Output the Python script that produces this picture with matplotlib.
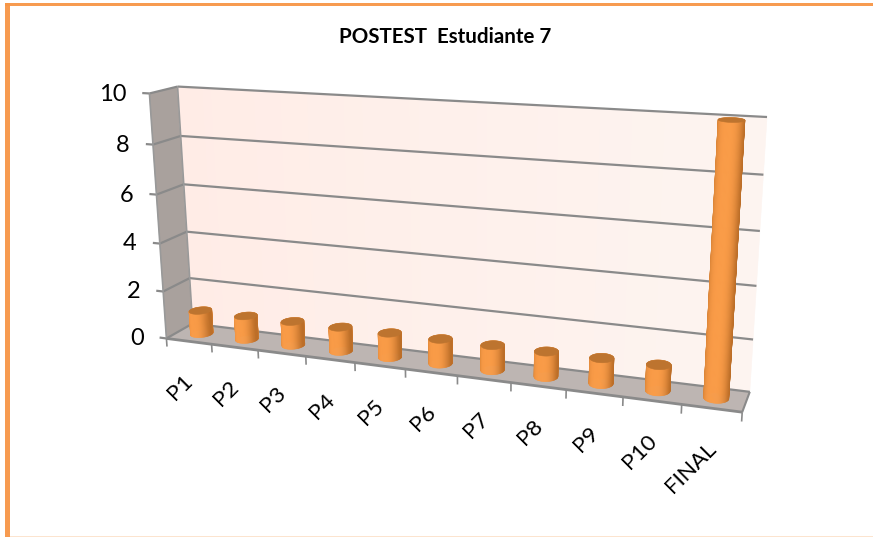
import numpy as np
import matplotlib
matplotlib.use('Agg')
from matplotlib import pyplot as plt
from matplotlib.colors import to_rgb
from matplotlib.patches import Polygon, Rectangle

categories = ['P1', 'P2', 'P3', 'P4', 'P5', 'P6', 'P7', 'P8', 'P9', 'P10', 'FINAL']
scores = [1, 1, 1, 1, 1, 1, 1, 1, 1, 1, 10]
value_ticks = [0, 2, 4, 6, 8, 10]
title = 'POSTEST  Estudiante 7'

# box corners (category pos, value, depth) and where they land on the canvas
BOX_POINTS = [
    ((0, 0, 0), (167, 339)),
    ((1, 0, 0), (742, 412)),
    ((0, 0, 1), (192, 323)),
    ((1, 0, 1), (750, 392)),
    ((0, 10, 1), (178, 87)),
    ((1, 10, 1), (767, 117)),
    ((0, 10, 0), (149, 93)),
]
BAR_RX = 0.0190
BAR_RZ = 0.25

ORANGE = '#F79646'
FONT = ['Lato', 'DejaVu Sans']


def fit_camera(points):
    # plain DLT, least squares over the box corners
    rows = []
    for (X, Y, Z), (x, y) in points:
        x, y = x / 1000, y / 1000
        rows.append([X, Y, Z, 1, 0, 0, 0, 0, -x * X, -x * Y, -x * Z, -x])
        rows.append([0, 0, 0, 0, X, Y, Z, 1, -y * X, -y * Y, -y * Z, -y])
    _, _, vt = np.linalg.svd(np.array(rows, dtype=float))
    return vt[-1].reshape(3, 4)


CAMERA = fit_camera(BOX_POINTS)


def project(u, v, d):
    u, v, d = np.broadcast_arrays(u, v, d)
    p = CAMERA @ np.vstack([u.ravel(), v.ravel(), d.ravel(), np.ones(u.size)])
    return np.column_stack([p[0] / p[2], p[1] / p[2]]) * 1000


def mix(c1, c2, t):
    c1, c2 = np.array(to_rgb(c1)), np.array(to_rgb(c2))
    return tuple(c1 + (c2 - c1) * t)


def poly(ax, pts, color, z, lw=0.4):
    ax.add_patch(Polygon(pts, closed=True, facecolor=color, edgecolor=color, lw=lw, zorder=z))


def draw_line(ax, a, b, color='#8A8A8A', lw=1.6, z=3):
    pts = project(*zip(a, b))
    ax.plot(pts[:, 0], pts[:, 1], color=color, lw=lw, zorder=z, solid_capstyle='butt')


def draw_box(ax):
    # left wall
    poly(ax, project([0, 0, 0, 0], [0, 10, 10, 0], [0, 0, 1, 1]), '#A9A19D', 1)
    # back wall, slight gradient left to right
    edges = np.linspace(0, 1, 61)
    for i in range(60):
        col = mix('#FFECE6', '#FDF4F0', i / 59)
        poly(ax, project([edges[i], edges[i + 1], edges[i + 1], edges[i]], [0, 0, 10, 10], 1), col, 1)
    # floor
    poly(ax, project([0, 1, 1, 0], 0, [0, 0, 1, 1]), '#BDB5B2', 2)

    for v in value_ticks:
        draw_line(ax, (0, v, 1), (1, v, 1))
        draw_line(ax, (0, v, 0), (0, v, 1))
        draw_line(ax, (-0.014, v, 0), (0, v, 0))
        x, y = project(-0.014, v, 0)[0]
        ax.text(x - 16, y + 1, str(v), ha='right', va='center', fontsize=17, color='black', family=FONT)
    draw_line(ax, (0, 0, 0), (0, 10, 0), color='#999999', lw=1.2)
    draw_line(ax, (0, 10, 1), (0, 0, 1), color='#999999', lw=1.2)

    # floor edges and category ticks, the ticks hang straight down
    draw_line(ax, (0, 0, 0), (1, 0, 0), lw=2, z=3)
    draw_line(ax, (1, 0, 0), (1, 0, 1), lw=1.5, z=3)
    for i in range(len(categories) + 1):
        draw_line(ax, (i / len(categories), 0, 0), (i / len(categories), -0.35, 0), lw=1.2)


def draw_cylinder(ax, center, value):
    theta = np.linspace(0, 2 * np.pi, 73)
    us = center + BAR_RX * np.cos(theta)
    ds = 0.5 + BAR_RZ * np.sin(theta)

    # facets back to front so the near side ends up on top
    order = np.argsort(-np.sin(theta[:-1] + np.pi / 72))
    for i in order:
        c = np.cos(theta[i] + np.pi / 72)
        shade = np.clip(abs(c + 0.1) / 1.1, 0, 1) ** 3
        col = mix('#FA9C48', '#BC6E28', shade)
        pts = project([us[i], us[i + 1], us[i + 1], us[i]], [0, 0, value, value],
                      [ds[i], ds[i + 1], ds[i + 1], ds[i]])
        poly(ax, pts, col, 5)
    # darker cap
    poly(ax, project(us, value, ds), '#BD742F', 6)


def main():
    fig = plt.figure(figsize=(8.73, 5.37), dpi=100, facecolor='white')
    ax = fig.add_axes([0, 0, 1, 1])
    ax.set_xlim(0, 873)
    ax.set_ylim(537, 0)
    ax.axis('off')

    # outer chart border
    ax.add_patch(Rectangle((5, 3), 868, 3, facecolor=ORANGE, edgecolor='none', alpha=0.95))
    ax.add_patch(Rectangle((5, 3), 5, 534, facecolor=ORANGE, edgecolor='none', alpha=0.95))
    ax.add_patch(Rectangle((10, 535.5), 863, 1.5, facecolor='#FCE4CF', edgecolor='none'))

    ax.text(445.5, 37, title, ha='center', va='center', fontsize=14.8, fontweight='bold',
            color='black', family=FONT)

    draw_box(ax)

    n = len(categories)
    for i, (name, val) in enumerate(zip(categories, scores)):
        draw_cylinder(ax, (i + 0.5) / n, val)
        x, y = project((i + 0.5) / n, 0, 0)[0]
        ax.text(x - 6, y + 30, name, rotation=45, rotation_mode='anchor', ha='right', va='top',
                fontsize=16.2, color='black', family=FONT)

    fig.savefig('out.png', dpi=100)


if __name__ == "__main__":
    main()
